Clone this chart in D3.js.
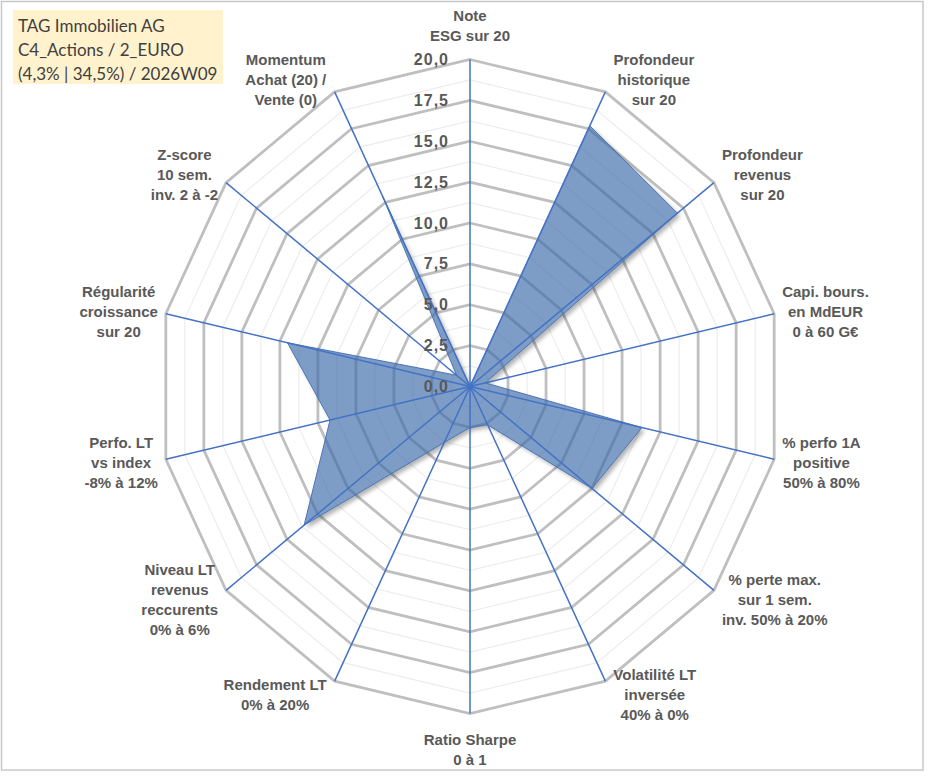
<!DOCTYPE html>
<html>
<head>
<meta charset="utf-8">
<script src="https://cdn.jsdelivr.net/npm/d3@7/dist/d3.min.js"></script>
<style>
  html, body { margin: 0; padding: 0; background: #ffffff; }
  svg { display: block; }
  .arial { font-family: "Liberation Sans", Arial, Helvetica, sans-serif; font-weight: 700; }
  .calibri { font-family: Lato, "Open Sans", sans-serif; }
</style>
</head>
<body>
<svg id="chart" width="933" height="776"></svg>
<script>
// ---------------- DATA ----------------
const categories = [
  "Note\nESG sur 20",
  "Profondeur\nhistorique\nsur 20",
  "Profondeur\nrevenus\nsur 20",
  "Capi. bours.\nen MdEUR\n0 à 60 G€",
  "% perfo 1A\npositive\n50% à 80%",
  "% perte max.\nsur 1 sem.\ninv. 50% à 20%",
  "Volatilité LT\ninversée\n40% à 0%",
  "Ratio Sharpe\n0 à 1",
  "Rendement LT\n0% à 20%",
  "Niveau LT\nrevenus\nreccurents\n0% à 6%",
  "Perfo. LT\nvs index\n-8% à 12%",
  "Régularité\ncroissance\nsur 20",
  "Z-score\n10 sem.\ninv. 2 à -2",
  "Momentum\nAchat (20) /\nVente (0)"
];
const values = [0, 17.7, 17.0, 1.0, 11.3, 10.0, 2.6, 2.5, 3.8, 13.6, 9.2, 12.0, 1.1, 12.9];
const majorTicks = [0, 2.5, 5, 7.5, 10, 12.5, 15, 17.5, 20];
const minorTicks = [1.25, 3.75, 6.25, 8.75, 11.25, 13.75, 16.25, 18.75];
const titleLines = ["TAG Immobilien AG", "C4_Actions / 2_EURO", "(4,3% | 34,5%) / 2026W09"];

// ---------------- LAYOUT ----------------
const W = 933, H = 776;
const cx = 470, cy = 386.5;
const n = categories.length;
const angle = d3.scaleLinear().domain([0, n]).range([0, 2 * Math.PI]);
const rX = d3.scaleLinear().domain([0, 20]).range([0, 312]);
const rY = d3.scaleLinear().domain([0, 20]).range([0, 327]);
const pt = (i, v) => [cx + Math.sin(angle(i)) * rX(v), cy - Math.cos(angle(i)) * rY(v)];
const fmt = v => d3.format(".1f")(v).replace(".", ",");

const svg = d3.select("#chart");

// chart frame
svg.append("rect").attr("x", 1.5).attr("y", 1.5).attr("width", 921.5).attr("height", 768.5)
  .attr("fill", "#ffffff").attr("stroke", "#c8c8c8").attr("stroke-width", 1.5);

const defs = svg.append("defs");
defs.append("filter").attr("id", "blur").attr("x", "-10%").attr("y", "-10%").attr("width", "120%").attr("height", "120%")
  .append("feGaussianBlur").attr("stdDeviation", 2.2);

const ring = v => d3.range(n).map(i => pt(i, v));
const closed = d3.line().curve(d3.curveLinearClosed);

// minor grid
svg.append("g").selectAll("path").data(minorTicks).join("path")
  .attr("d", v => closed(ring(v)))
  .attr("fill", "none").attr("stroke", "#ececec").attr("stroke-width", 1.2);
// major grid
svg.append("g").selectAll("path").data(majorTicks.filter(v => v > 0)).join("path")
  .attr("d", v => closed(ring(v)))
  .attr("fill", "none").attr("stroke", "#bfbfbf").attr("stroke-width", 2.8)
  .attr("stroke-linejoin", "miter");

// series
const seriesPts = values.map((v, i) => pt(i, v));
const mask = defs.append("mask").attr("id", "outside");
mask.append("rect").attr("width", W).attr("height", H).attr("fill", "#fff");
mask.append("path").attr("d", closed(seriesPts)).attr("fill", "#000");
svg.append("g").attr("mask", "url(#outside)")
  .append("path").attr("d", closed(seriesPts))
  .attr("transform", "translate(3,3)")
  .attr("fill", "#000").attr("opacity", 0.3).attr("filter", "url(#blur)");
svg.append("path").attr("d", closed(seriesPts))
  .attr("fill", "#3A6BAA").attr("fill-opacity", 0.66)
  .attr("stroke", "#4a76b8").attr("stroke-width", 1).attr("stroke-linejoin", "miter");

// spokes
svg.append("g").selectAll("line").data(d3.range(n)).join("line")
  .attr("x1", cx).attr("y1", cy)
  .attr("x2", i => pt(i, 20)[0]).attr("y2", i => pt(i, 20)[1])
  .attr("stroke", "#4472C4").attr("stroke-width", 1.5);
svg.append("circle").attr("cx", cx).attr("cy", cy).attr("r", 3).attr("fill", "#4472C4");

// tick labels
svg.append("g").attr("class", "arial").selectAll("text").data(majorTicks).join("text")
  .attr("x", cx - 21).attr("y", v => cy - rY(v))
  .attr("text-anchor", "end").attr("dominant-baseline", "central")
  .attr("font-size", 16).attr("letter-spacing", 1)
  .attr("fill", "#595959")
  .text(fmt);

// category labels
const lineH = 20;
const labG = svg.append("g").attr("class", "arial")
  .attr("font-size", 15).attr("fill", "#595959");
categories.forEach((c, i) => {
  const lines = c.split("\n");
  const g = labG.append("g");
  const t = g.append("text").attr("text-anchor", "middle").attr("dominant-baseline", "central");
  lines.forEach((l, k) => {
    t.append("tspan").attr("x", 0).attr("y", (k - (lines.length - 1) / 2) * lineH).text(l);
  });
  const bb = t.node().getBBox();
  const w = bb.width, h = lines.length * lineH;
  const a = angle(i), s = Math.sin(a), co = Math.cos(a);
  const [px, py] = pt(i, 20);
  let lx, ly;
  if (Math.abs(s) < 0.01) {
    lx = px;
    ly = py + (co > 0 ? -(h / 2 + 15) : (h / 2 + 15));
  } else {
    lx = px + Math.sign(s) * (w / 2 + 8);
    ly = cy - co * (rY(20) + 14);
  }
  g.attr("transform", `translate(${lx},${ly})`);
});

// title box
const tg = svg.append("g").attr("class", "calibri");
tg.append("rect").attr("x", 13).attr("y", 10).attr("width", 210).attr("height", 74).attr("fill", "#FFF2CC");
tg.selectAll("text").data(titleLines).join("text")
  .attr("x", 18).attr("y", (d, k) => 25 + k * 24)
  .attr("dominant-baseline", "central")
  .attr("font-size", 17)
  .attr("fill", "#404040")
  .text(d => d);
</script>
</body>
</html>
